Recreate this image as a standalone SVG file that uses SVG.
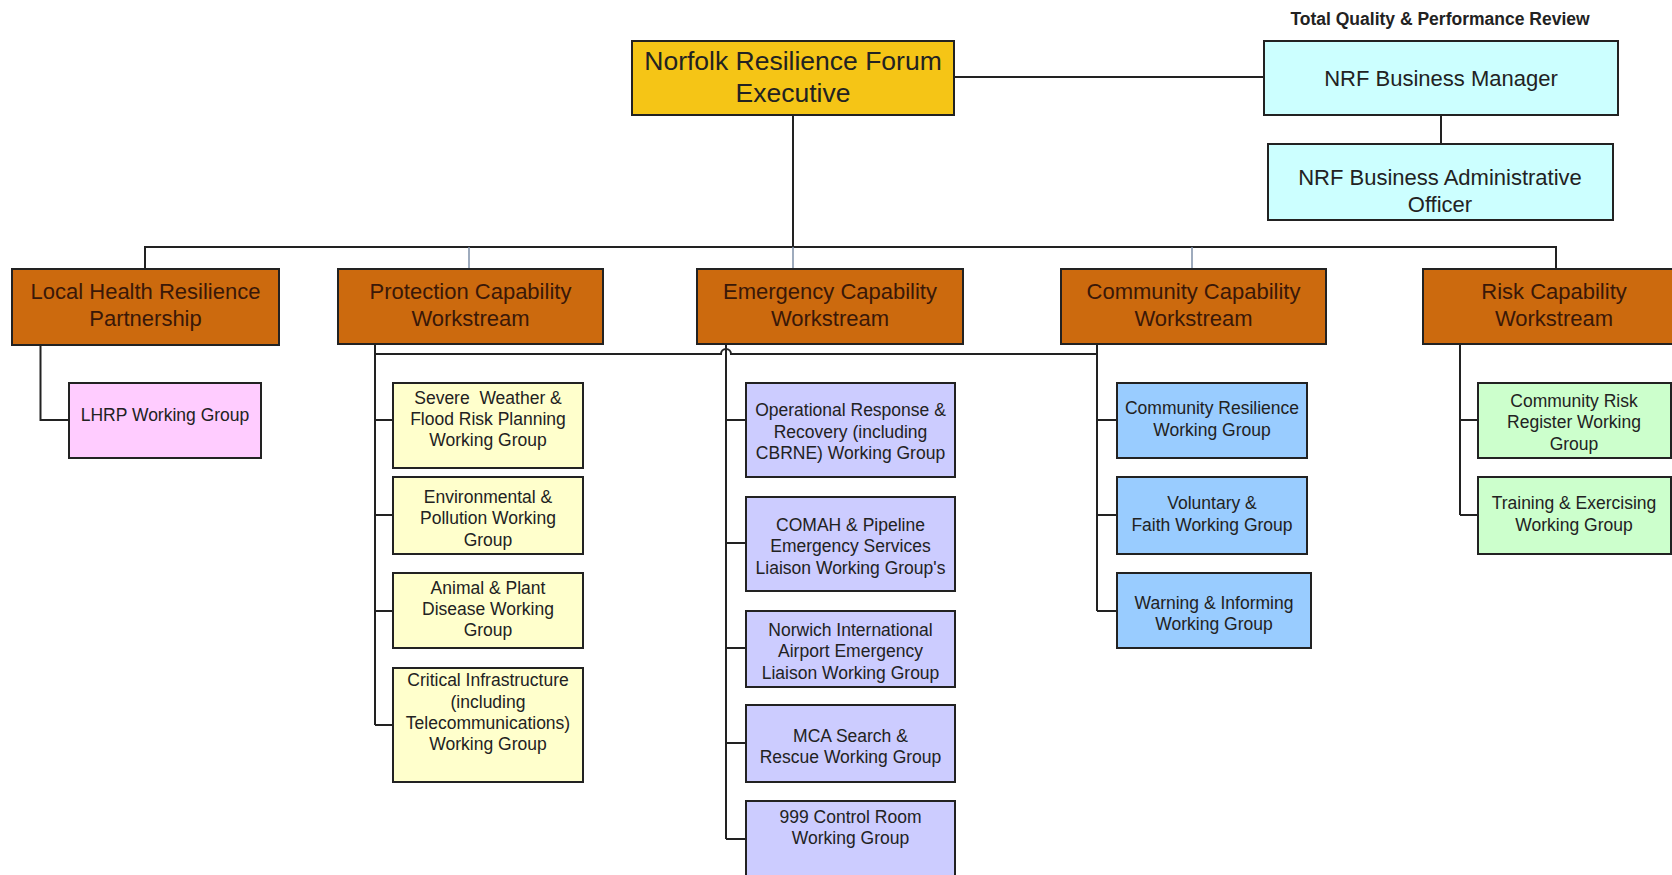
<svg xmlns="http://www.w3.org/2000/svg" width="1672" height="875" viewBox="0 0 1672 875">
<defs>
<style>
text{font-family:"Liberation Sans",Arial,sans-serif;text-anchor:middle;fill:#222;}
.box{stroke:#222;stroke-width:2;}
.exec{fill:#F5C516;}
.mgr{fill:#CCFFFF;}
.ws{fill:#CC6A0E;}
.pink{fill:#FFCCFF;}
.yel{fill:#FFFFCC;}
.lav{fill:#CCCCFF;}
.blue{fill:#99CCFF;}
.green{fill:#CCFFCC;}
.t26{font-size:26.5px;}
.t22{font-size:22px;}
.wst{font-size:22px;fill:#3A1808;}
.t17{font-size:17.5px;}
.title{font-size:17.5px;font-weight:bold;}
.ln{fill:none;stroke:#222;stroke-width:2;}
.thin{fill:none;stroke:#7F90A8;stroke-width:1.5;}
</style>
</defs>
<rect width="1672" height="875" fill="#fff"/>

<g id="connectors">
<path class="ln" d="M954,77 H1264"/>
<path class="ln" d="M1441,115 V144"/>
<path class="ln" d="M793,115 V247"/>
<path class="ln" d="M145,268 V247 H1556 V268"/>
<path class="thin" d="M469,247 V268 M793,247 V268 M1192,247 V268"/>
<path class="ln" d="M40.5,346 V420 H69"/>
<path class="ln" d="M375,344 V725 M375,420 H393 M375,515 H393 M375,611 H393 M375,725 H393"/>
<path class="ln" d="M375,354 H721 A5,5 0 0 1 731,354 H1097"/>
<path class="ln" d="M726,344 V839 M726,420 H746 M726,543 H746 M726,648 H746 M726,743 H746 M726,839 H746"/>
<path class="ln" d="M1097,344 V611 M1097,420 H1117 M1097,515 H1117 M1097,611 H1117"/>
<path class="ln" d="M1460,344 V515 M1460,420 H1478 M1460,515 H1478"/>
</g>

<g id="title">
<text class="title" x="1440" y="25">Total Quality &amp; Performance Review</text>
</g>

<g id="nrf-exec">
<rect class="box exec" x="632" y="41" width="322" height="74"/>
<text class="t26" x="793" y="70">Norfolk Resilience Forum</text>
<text class="t26" x="793" y="102">Executive</text>
</g>
<g id="nrf-manager">
<rect class="box mgr" x="1264" y="41" width="354" height="74"/>
<text class="t22" x="1441" y="86">NRF Business Manager</text>
</g>
<g id="nrf-admin">
<rect class="box mgr" x="1268" y="144" width="345" height="76"/>
<text class="t22" x="1440" y="185">NRF Business Administrative</text>
<text class="t22" x="1440" y="212">Officer</text>
</g>

<g id="lhrp">
<rect class="box ws" x="12" y="269" width="267" height="76"/>
<text class="wst" x="145.5" y="299">Local Health Resilience</text>
<text class="wst" x="145.5" y="326">Partnership</text>
</g>
<g id="protection">
<rect class="box ws" x="338" y="269" width="265" height="75"/>
<text class="wst" x="470.5" y="299">Protection Capability</text>
<text class="wst" x="470.5" y="326">Workstream</text>
</g>
<g id="emergency">
<rect class="box ws" x="697" y="269" width="266" height="75"/>
<text class="wst" x="830" y="299">Emergency Capability</text>
<text class="wst" x="830" y="326">Workstream</text>
</g>
<g id="community">
<rect class="box ws" x="1061" y="269" width="265" height="75"/>
<text class="wst" x="1193.5" y="299">Community Capability</text>
<text class="wst" x="1193.5" y="326">Workstream</text>
</g>
<g id="risk">
<rect class="box ws" x="1423" y="269" width="262" height="75"/>
<text class="wst" x="1554" y="299">Risk Capability</text>
<text class="wst" x="1554" y="326">Workstream</text>
</g>

<g id="lhrp-wg">
<rect class="box pink" x="69" y="383" width="192" height="75"/>
<text class="t17" x="165" y="421">LHRP Working Group</text>
</g>

<g id="severe-weather">
<rect class="box yel" x="393" y="383" width="190" height="85"/>
<text class="t17" x="488" y="404" xml:space="preserve">Severe  Weather &amp;</text>
<text class="t17" x="488" y="425">Flood Risk Planning</text>
<text class="t17" x="488" y="446">Working Group</text>
</g>
<g id="environmental">
<rect class="box yel" x="393" y="477" width="190" height="77"/>
<text class="t17" x="488" y="503">Environmental &amp;</text>
<text class="t17" x="488" y="524">Pollution Working</text>
<text class="t17" x="488" y="546">Group</text>
</g>
<g id="animal-plant">
<rect class="box yel" x="393" y="573" width="190" height="75"/>
<text class="t17" x="488" y="594">Animal &amp; Plant</text>
<text class="t17" x="488" y="615">Disease Working</text>
<text class="t17" x="488" y="636">Group</text>
</g>
<g id="critical-infra">
<rect class="box yel" x="393" y="668" width="190" height="114"/>
<text class="t17" x="488" y="686">Critical Infrastructure</text>
<text class="t17" x="488" y="708">(including</text>
<text class="t17" x="488" y="729">Telecommunications)</text>
<text class="t17" x="488" y="750">Working Group</text>
</g>

<g id="operational">
<rect class="box lav" x="746" y="383" width="209" height="94"/>
<text class="t17" x="850.5" y="416">Operational Response &amp;</text>
<text class="t17" x="850.5" y="438">Recovery (including</text>
<text class="t17" x="850.5" y="459">CBRNE) Working Group</text>
</g>
<g id="comah">
<rect class="box lav" x="746" y="497" width="209" height="94"/>
<text class="t17" x="850.5" y="531">COMAH &amp; Pipeline</text>
<text class="t17" x="850.5" y="552">Emergency Services</text>
<text class="t17" x="850.5" y="574">Liaison Working Group's</text>
</g>
<g id="norwich">
<rect class="box lav" x="746" y="611" width="209" height="76"/>
<text class="t17" x="850.5" y="636">Norwich International</text>
<text class="t17" x="850.5" y="657">Airport Emergency</text>
<text class="t17" x="850.5" y="679">Liaison Working Group</text>
</g>
<g id="mca">
<rect class="box lav" x="746" y="705" width="209" height="77"/>
<text class="t17" x="850.5" y="742">MCA Search &amp;</text>
<text class="t17" x="850.5" y="763">Rescue Working Group</text>
</g>
<g id="control-room">
<rect class="box lav" x="746" y="801" width="209" height="90"/>
<text class="t17" x="850.5" y="823">999 Control Room</text>
<text class="t17" x="850.5" y="844">Working Group</text>
</g>

<g id="community-resilience">
<rect class="box blue" x="1117" y="383" width="190" height="75"/>
<text class="t17" x="1212" y="414">Community Resilience</text>
<text class="t17" x="1212" y="436">Working Group</text>
</g>
<g id="voluntary">
<rect class="box blue" x="1117" y="477" width="190" height="77"/>
<text class="t17" x="1212" y="509">Voluntary &amp;</text>
<text class="t17" x="1212" y="531">Faith Working Group</text>
</g>
<g id="warning">
<rect class="box blue" x="1117" y="573" width="194" height="75"/>
<text class="t17" x="1214" y="609">Warning &amp; Informing</text>
<text class="t17" x="1214" y="630">Working Group</text>
</g>

<g id="risk-register">
<rect class="box green" x="1478" y="383" width="193" height="75"/>
<text class="t17" x="1574" y="407">Community Risk</text>
<text class="t17" x="1574" y="428">Register Working</text>
<text class="t17" x="1574" y="450">Group</text>
</g>
<g id="training">
<rect class="box green" x="1478" y="477" width="193" height="77"/>
<text class="t17" x="1574" y="509">Training &amp; Exercising</text>
<text class="t17" x="1574" y="531">Working Group</text>
</g>
</svg>
